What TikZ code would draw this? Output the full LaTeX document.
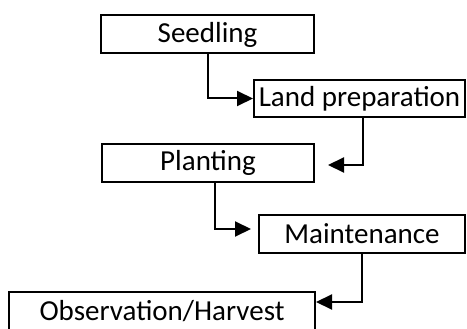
\documentclass[tikz,border=0pt]{standalone}
\usepackage{fontspec}
\setmainfont{Carlito}
\usetikzlibrary{arrows.meta}
\usetikzlibrary{positioning}

\begin{document}
\begin{tikzpicture}[x=1pt,y=-1pt,line width=2pt,
  every node/.style={draw,rectangle,inner sep=0pt,minimum height=38pt,font=\fontsize{29}{34}\selectfont},
  flow/.style={-{Triangle[length=16pt,width=15pt]},line width=2pt}]
  \useasboundingbox (0,0) rectangle (467,329);
  \node[minimum width=213pt] (seed) at (207.5,34.5) {Seedling};
  \node[minimum width=211pt,minimum height=37pt] (land) at (359.5,98.5) {Land preparation};
  \node[minimum width=212pt] (plant) at (208,163) {Planting};
  \node[minimum width=206pt] (maint) at (362,234) {Maintenance};
  \node[minimum width=306pt] (obs) at (162,311) {Observation/Harvest};

  \draw[flow](seed.south) |- (land.west);
  \draw[flow]([xshift=3.5pt]land.south) |- ([xshift=13pt,yshift=-2pt]plant.east);
  \draw[flow]([xshift=7pt]plant.south) |- ([xshift=-7pt,yshift=5pt]maint.west);
  \draw[flow](maint.south) |- ([yshift=9pt]obs.east);
\end{tikzpicture}
\end{document}
